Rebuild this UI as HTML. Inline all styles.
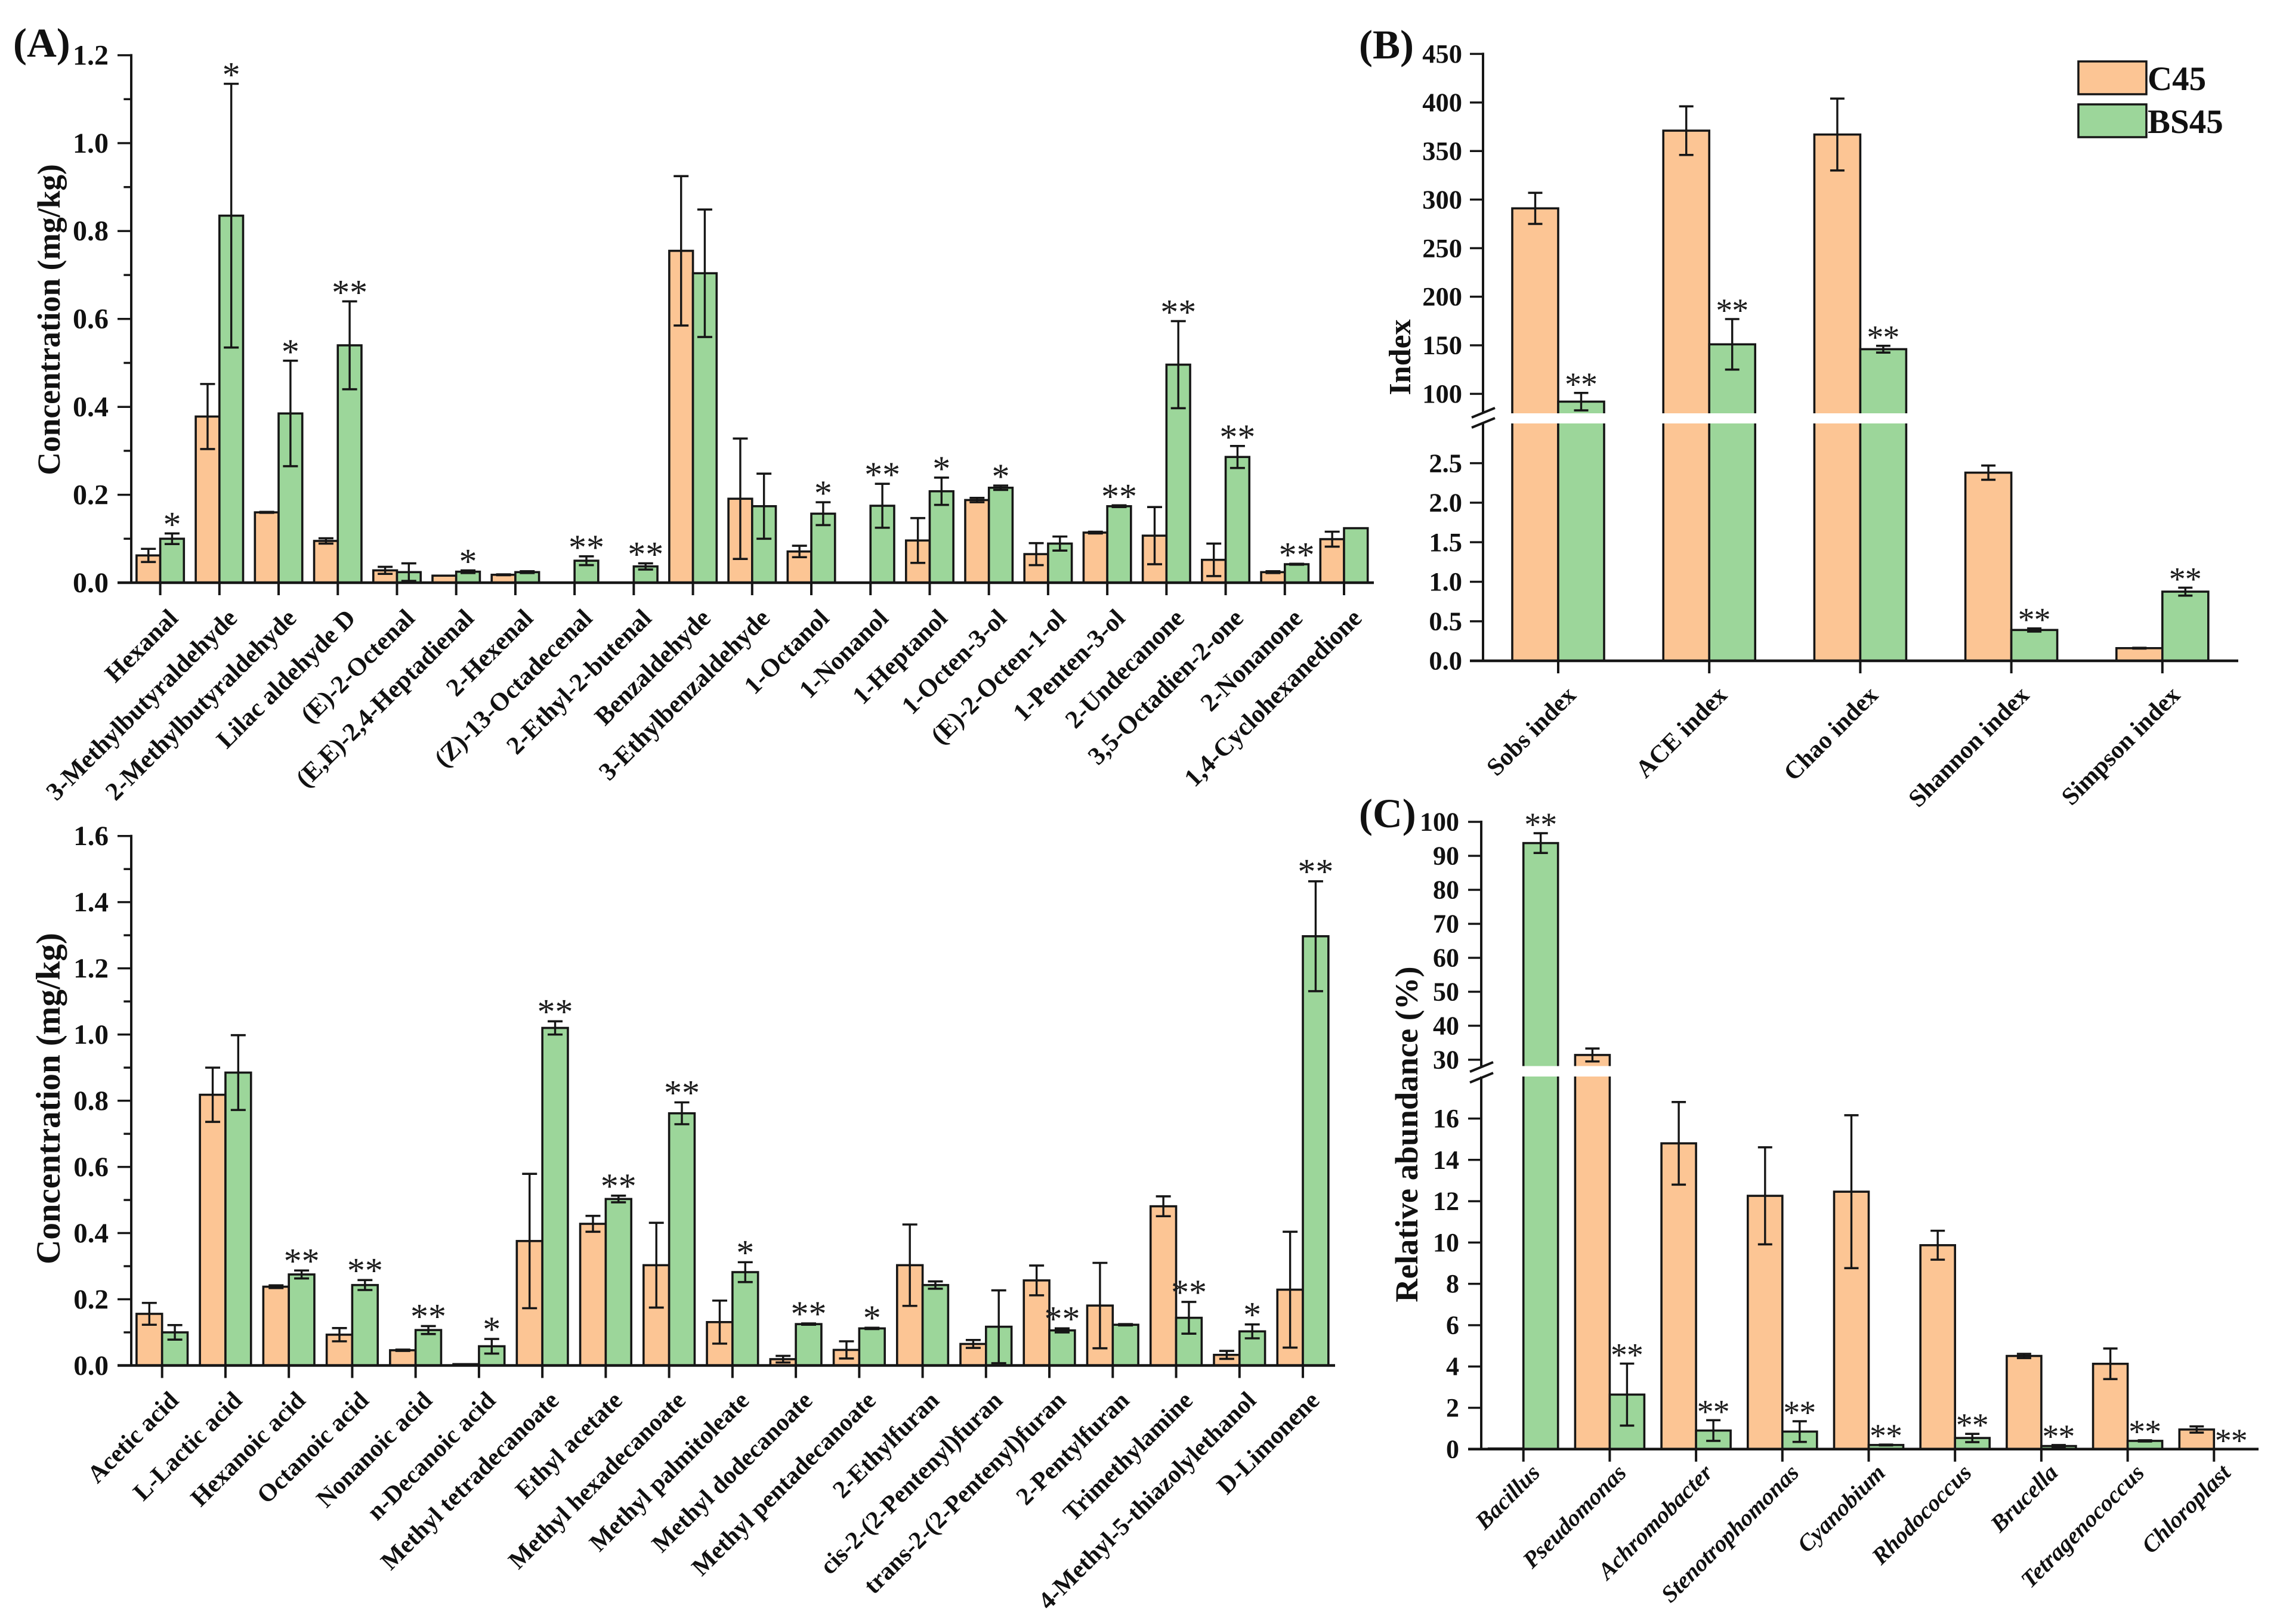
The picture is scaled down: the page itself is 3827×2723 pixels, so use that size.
<!DOCTYPE html>
<html lang="en">
<head>
<meta charset="utf-8">
<title>Volatile compounds and microbial community, C45 versus BS45</title>
<style>
html,body{margin:0;padding:0;background:#fff;}
svg{display:block;}
text{font-family:"Liberation Serif",serif;fill:#111;}
</style>
</head>
<body>
<svg id="figure" xmlns="http://www.w3.org/2000/svg" width="3827" height="2723" viewBox="0 0 3827 2723"></svg>
<script>
// ---------- Panel A (top): aldehydes, alcohols, ketones ----------
const aTopCategories = ["Hexanal","3-Methylbutyraldehyde","2-Methylbutyraldehyde","Lilac aldehyde D","(E)-2-Octenal","(E,E)-2,4-Heptadienal","2-Hexenal","(Z)-13-Octadecenal","2-Ethyl-2-butenal","Benzaldehyde","3-Ethylbenzaldehyde","1-Octanol","1-Nonanol","1-Heptanol","1-Octen-3-ol","(E)-2-Octen-1-ol","1-Penten-3-ol","2-Undecanone","3,5-Octadien-2-one","2-Nonanone","1,4-Cyclohexanedione"];
const aTopC45 = [0.062,0.378,0.16,0.095,0.028,0.016,0.018,0,0,0.755,0.191,0.071,0,0.096,0.188,0.065,0.114,0.107,0.052,0.024,0.099];
const aTopC45Err = [0.015,0.074,0.001,0.006,0.008,0,0.001,0,0,0.17,0.137,0.013,0,0.051,0.005,0.025,0.002,0.065,0.037,0.002,0.017];
const aTopBS45 = [0.1,0.835,0.385,0.54,0.024,0.025,0.024,0.05,0.037,0.704,0.174,0.157,0.175,0.208,0.216,0.089,0.174,0.496,0.286,0.042,0.124];
const aTopBS45Err = [0.012,0.3,0.12,0.1,0.02,0.003,0.002,0.01,0.007,0.145,0.074,0.026,0.05,0.031,0.005,0.016,0.002,0.099,0.025,0.001,0];
const aTopStars = [1,1,1,2,0,1,0,2,2,0,0,1,2,1,1,0,2,2,2,2,0];
const aTopTicks = [0,0.2,0.4,0.6,0.8,1.0,1.2];
const aTopTickLabels = ["0.0","0.2","0.4","0.6","0.8","1.0","1.2"];
const aTopMinorTicks = [0.1,0.3,0.5,0.7,0.9,1.1];

// ---------- Panel A (bottom): acids, esters, furans, others ----------
const aBottomCategories = ["Acetic acid","L-Lactic acid","Hexanoic acid","Octanoic acid","Nonanoic acid","n-Decanoic acid","Methyl tetradecanoate","Ethyl acetate","Methyl hexadecanoate","Methyl palmitoleate","Methyl dodecanoate","Methyl pentadecanoate","2-Ethylfuran","cis-2-(2-Pentenyl)furan","trans-2-(2-Pentenyl)furan","2-Pentylfuran","Trimethylamine","4-Methyl-5-thiazolylethanol","D-Limonene"];
const aBottomC45 = [0.156,0.818,0.238,0.093,0.046,0.004,0.376,0.428,0.303,0.131,0.019,0.047,0.303,0.065,0.257,0.181,0.481,0.032,0.229];
const aBottomC45Err = [0.033,0.082,0.004,0.02,0.002,0,0.203,0.024,0.128,0.065,0.01,0.026,0.123,0.012,0.045,0.129,0.03,0.012,0.175];
const aBottomBS45 = [0.1,0.885,0.275,0.243,0.107,0.058,1.02,0.503,0.762,0.282,0.125,0.112,0.243,0.117,0.106,0.123,0.144,0.103,1.297];
const aBottomBS45Err = [0.022,0.113,0.012,0.015,0.012,0.022,0.02,0.01,0.033,0.03,0.002,0.002,0.011,0.11,0.006,0.002,0.048,0.021,0.166];
const aBottomStars = [0,0,2,2,2,1,2,2,2,1,2,1,0,0,2,0,2,1,2];
const aBottomTicks = [0,0.2,0.4,0.6,0.8,1.0,1.2,1.4,1.6];
const aBottomTickLabels = ["0.0","0.2","0.4","0.6","0.8","1.0","1.2","1.4","1.6"];
const aBottomMinorTicks = [0.1,0.3,0.5,0.7,0.9,1.1,1.3,1.5];

// ---------- Panel B: diversity indices (broken axis) ----------
const bCategories = ["Sobs index","ACE index","Chao index","Shannon index","Simpson index"];
const bC45 = [291,371,367,2.38,0.16];
const bC45Err = [16,25,37,0.09,0.005];
const bBS45 = [92,151,146,0.39,0.875];
const bBS45Err = [9,26,3.5,0.02,0.05];
const bStars = [2,2,2,2,2];
const bTicks = [0,0.5,1,1.5,2,2.5,100,150,200,250,300,350,400,450];
const bTickLabels = ["0.0","0.5","1.0","1.5","2.0","2.5","100","150","200","250","300","350","400","450"];

// ---------- Panel C: relative abundance (broken axis) ----------
const cCategories = ["Bacillus","Pseudomonas","Achromobacter","Stenotrophomonas","Cyanobium","Rhodococcus","Brucella","Tetragenococcus","Chloroplast"];
const cC45 = [0.03,31.4,14.8,12.26,12.46,9.87,4.51,4.13,0.95];
const cC45Err = [0,1.9,2,2.35,3.7,0.7,0.1,0.74,0.15];
const cBS45 = [93.75,2.64,0.9,0.85,0.2,0.54,0.15,0.4,0];
const cBS45Err = [2.9,1.5,0.5,0.5,0.02,0.2,0.05,0.03,0];
const cStars = [2,2,2,2,2,2,2,2,2];
const cTicks = [0,2,4,6,8,10,12,14,16,30,40,50,60,70,80,90,100];
const cTickLabels = ["0","2","4","6","8","10","12","14","16","30","40","50","60","70","80","90","100"];

const ORANGE = "#fcc594";
const GREEN = "#9cd69a";
const INK = "#161616";
const SVGNS = "http://www.w3.org/2000/svg";
const root = document.getElementById("figure");

function el(tag, attrs, parent) {
  const node = document.createElementNS(SVGNS, tag);
  for (const k in attrs) node.setAttribute(k, attrs[k]);
  (parent || root).appendChild(node);
  return node;
}
function line(x1, y1, x2, y2, w, parent) {
  return el("line", {x1: x1, y1: y1, x2: x2, y2: y2, stroke: INK, "stroke-width": w}, parent);
}
function label(str, attrs, parent) {
  const node = el("text", attrs, parent);
  node.textContent = str;
  return node;
}

function linearY(y0, yRef, vRef) {
  return v => y0 + (yRef - y0) * v / vRef;
}
function brokenY(lowY0, lowRefY, lowRefV, highRefV1, highY1, highRefV2, highY2, cut) {
  return v => {
    if (v <= cut) return lowY0 + (lowRefY - lowY0) * v / lowRefV;
    return highY1 + (highY2 - highY1) * (v - highRefV1) / (highRefV2 - highRefV1);
  };
}

function drawPanel(p) {
  const g = el("g", {});
  
  
  const y = p.y;
  const baseY = y(0);

  // bars
  p.categories.forEach((cat, i) => {
    const tickX = p.firstX + i * p.step;
    const left = el("rect", {x: tickX - p.barW, y: y(p.c45[i]), width: p.barW, height: baseY - y(p.c45[i]), fill: ORANGE, stroke: INK, "stroke-width": p.barStroke}, g);
    
    
    const right = el("rect", {x: tickX, y: y(p.bs45[i]), width: p.barW, height: baseY - y(p.bs45[i]), fill: GREEN, stroke: INK, "stroke-width": p.barStroke}, g);
    
    
  });

  // white gap through broken bars
  if (p.gap) {
    const band = el("rect", {x: p.axisX + 40, y: p.gap[0], width: p.xEnd - p.axisX - 40, height: p.gap[1] - p.gap[0], fill: "#fff"}, g);
    
    
  }

  // error bars and significance marks
  p.categories.forEach((cat, i) => {
    const tickX = p.firstX + i * p.step;
    const series = [[tickX - p.barW / 2, p.c45[i], p.c45Err[i]], [tickX + p.barW / 2, p.bs45[i], p.bs45Err[i]]];
    series.forEach(s => {
      if (s[2] <= 0) return;
      const eb = el("g", {}, g);
      
      
      const top = y(s[1] + s[2]);
      const bot = y(s[1] - s[2]);
      line(s[0], top, s[0], bot, 3.4, eb);
      line(s[0] - p.cap, top, s[0] + p.cap, top, 3.6, eb);
      line(s[0] - p.cap, bot, s[0] + p.cap, bot, 3.6, eb);
    });
    if (p.stars[i] > 0) {
      const sx = tickX + p.barW / 2;
      const sy = y(p.bs45[i] + p.bs45Err[i]) + p.starDrop;
      const txt = p.stars[i] === 2 ? "**" : "*";
      const ls = p.stars[i] === 2 ? p.starGap : 0;
      const star = label(txt, {x: sx + ls / 2, y: sy, "text-anchor": "middle", "font-size": p.starSize, "letter-spacing": ls, style: "fill:#1c1c1c"}, g);
      
      
    }
  });

  // axes
  const xAxis = line(p.axisX - p.tickLen, baseY, p.xEnd, baseY, 4.5, g);
  
  
  const topV = p.ticks[p.ticks.length - 1];
  if (p.gap) {
    const yu = line(p.axisX, y(topV) - 2, p.axisX, p.gap[0], 4, g);
    
    
    const yl = line(p.axisX, p.gap[1], p.axisX, baseY, 4, g);
    
    
    const m = p.breakMark;
    const b1 = line(p.axisX - 19, m[0] + 8, p.axisX + 20, m[0] - 8, 4, g);
    
    
    const b2 = line(p.axisX - 19, m[1] + 8, p.axisX + 20, m[1] - 8, 4, g);
    
    
  } else {
    const ya = line(p.axisX, y(topV) - 2, p.axisX, baseY, 4, g);
    
    
  }

  // y ticks
  p.ticks.forEach((v, i) => {
    const ty = y(v);
    line(p.axisX - p.tickLen, ty, p.axisX, ty, 3.5, g);
    const t = label(p.tickLabels[i], {x: p.axisX - p.labelGap, y: ty + p.tickFont * 0.33, "text-anchor": "end", "font-size": p.tickFont, "font-weight": "bold"}, g);
    
    
  });
  (p.minor || []).forEach(v => {
    line(p.axisX - p.tickLen * 0.55, y(v), p.axisX, y(v), 3.5, g);
  });

  // x ticks + rotated labels
  p.categories.forEach((cat, i) => {
    const tickX = p.firstX + i * p.step;
    line(tickX, baseY, tickX, baseY + 21, 4, g);
    const lx = tickX + p.catDx;
    const ly = baseY + p.catDy;
    const t = label(cat, {x: lx, y: ly, "text-anchor": "end", "font-size": p.catFont, "font-weight": "bold", "font-style": p.catItalic ? "italic" : "normal", transform: "rotate(-45 " + lx + " " + ly + ")"}, g);
    
    
  });

  // y title
  const a = p.title;
  const yt = label(a.text, {x: a.x, y: a.y, "text-anchor": "middle", "font-size": a.size, "font-weight": "bold", transform: "rotate(-90 " + a.x + " " + a.y + ")"}, g);
  
  
}

drawPanel({
  name: "panel-a-top-chart",
  categories: aTopCategories, c45: aTopC45, c45Err: aTopC45Err, bs45: aTopBS45, bs45Err: aTopBS45Err, stars: aTopStars,
  ticks: aTopTicks, tickLabels: aTopTickLabels, minor: aTopMinorTicks,
  y: linearY(977, 92.6, 1.2),
  axisX: 220, xEnd: 2303, firstX: 268.6, step: 99.22, barW: 39.7, barStroke: 3.6, cap: 12.5,
  tickLen: 23, labelGap: 38, tickFont: 48, starSize: 60, starGap: 0, starDrop: 5,
  catDx: 32, catDy: 62, catFont: 42.7,
  title: {text: "Concentration (mg/kg)", x: 100, y: 536, size: 53.5}
});

drawPanel({
  name: "panel-a-bottom-chart",
  categories: aBottomCategories, c45: aBottomC45, c45Err: aBottomC45Err, bs45: aBottomBS45, bs45Err: aBottomBS45Err, stars: aBottomStars,
  ticks: aBottomTicks, tickLabels: aBottomTickLabels, minor: aBottomMinorTicks,
  y: linearY(2289.5, 1401.7, 1.6),
  axisX: 220, xEnd: 2238, firstX: 271.7, step: 106.24, barW: 42.8, barStroke: 3.6, cap: 12.5,
  tickLen: 23, labelGap: 38, tickFont: 47, starSize: 60, starGap: 0, starDrop: 4,
  catDx: 30, catDy: 61, catFont: 41.7,
  title: {text: "Concentration (mg/kg)", x: 100, y: 1842, size: 57}
});

drawPanel({
  name: "panel-b-chart",
  categories: bCategories, c45: bC45, c45Err: bC45Err, bs45: bBS45, bs45Err: bBS45Err, stars: bStars,
  ticks: bTicks, tickLabels: bTickLabels,
  y: brokenY(1108, 776.6, 2.5, 100, 660.4, 450, 90.4, 10),
  gap: [693, 710], breakMark: [692, 709],
  axisX: 2486, xEnd: 3752, firstX: 2612, step: 253.2, barW: 77, barStroke: 3.6, cap: 12,
  tickLen: 22, labelGap: 35, tickFont: 44.5, starSize: 56, starGap: -1, starDrop: 4,
  catDx: 32, catDy: 60, catFont: 41.7,
  title: {text: "Index", x: 2364, y: 599, size: 52}
});

drawPanel({
  name: "panel-c-chart",
  categories: cCategories, c45: cC45, c45Err: cC45Err, bs45: cBS45, bs45Err: cBS45Err, stars: cStars,
  ticks: cTicks, tickLabels: cTickLabels,
  y: brokenY(2429.8, 1875.5, 16, 30, 1776.9, 100, 1378, 20),
  gap: [1787.5, 1805], breakMark: [1789, 1807],
  axisX: 2483, xEnd: 3786, firstX: 2553.7, step: 144.7, barW: 58, barStroke: 3.6, cap: 12,
  tickLen: 22, labelGap: 37, tickFont: 44, starSize: 56, starGap: -1, starDrop: 4,
  catDx: 30, catDy: 42, catFont: 39.5, catItalic: true,
  title: {text: "Relative abundance (%)", x: 2376, y: 1902, size: 54.5}
});

// panel letters
const letterA = label("(A)", {x: 22, y: 95, "font-size": 69, "font-weight": "bold"});


const letterB = label("(B)", {x: 2278, y: 98, "font-size": 69, "font-weight": "bold"});


const letterC = label("(C)", {x: 2278, y: 1387, "font-size": 69, "font-weight": "bold"});



// legend
const legend = el("g", {});


const legendC = el("rect", {x: 3484, y: 103, width: 114, height: 55, fill: ORANGE, stroke: INK, "stroke-width": 3.5}, legend);


const legendCText = label("C45", {x: 3600, y: 151, "font-size": 57, "font-weight": "bold"}, legend);


const legendB = el("rect", {x: 3484, y: 175, width: 114, height: 55, fill: GREEN, stroke: INK, "stroke-width": 3.5}, legend);


const legendBText = label("BS45", {x: 3600, y: 223, "font-size": 57, "font-weight": "bold"}, legend);


</script>
</body>
</html>
